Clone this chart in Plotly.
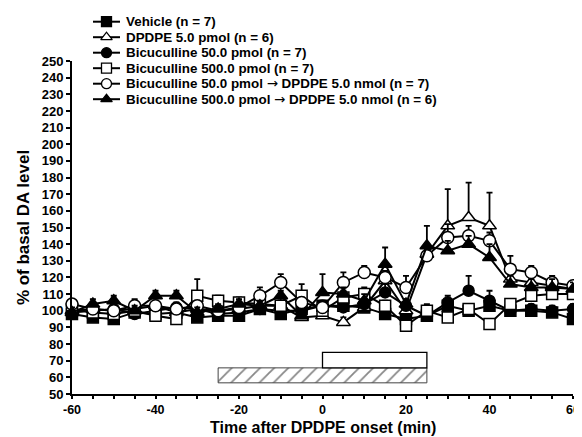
import plotly.graph_objects as go

# ---------------- data ----------------
time_min = [-60, -55, -50, -45, -40, -35, -30, -25, -20, -15, -10, -5, 0,
            5, 10, 15, 20, 25, 30, 35, 40, 45, 50, 55, 60]

vehicle = [98, 96, 95, 99, 98, 99, 96, 97, 97, 101, 98, 101, 103,
           103, 102, 98, 95, 97, 103, 100, 103, 100, 100, 99, 95]
vehicle_err = [2, 2, 2, 2, 2, 2, 2, 2, 2, 3, 2, 3, 3,
               3, 2, 2, 3, 3, 4, 3, 3, 2, 3, 3, 3]

dpdpe = [100, 101, 100, 101, 103, 99, 101, 100, 101, 103, 103, 96, 97,
         93, 102, 118, 100, 134, 151, 156, 151, 119, 117, 115, 113]
dpdpe_err = [3, 3, 2, 3, 3, 3, 3, 3, 3, 3, 3, 3, 3,
             3, 3, 5, 3, 5, 22, 21, 20, 4, 4, 4, 3]

bic50 = [99, 100, 101, 98, 100, 102, 101, 98, 99, 101, 100, 100, 103,
         102, 104, 111, 103, 97, 105, 112, 106, 100, 101, 100, 101]
bic50_err = [3, 3, 3, 3, 3, 3, 3, 3, 3, 3, 3, 3, 3,
             3, 3, 5, 4, 3, 4, 9, 6, 3, 3, 3, 3]

bic500 = [101, 99, 98, 100, 97, 95, 109, 106, 105, 104, 103, 109, 100,
          108, 110, 103, 91, 100, 96, 101, 92, 104, 109, 110, 110]
bic500_err = [3, 3, 3, 3, 3, 3, 10, 3, 3, 3, 3, 7, 3,
              4, 4, 3, 3, 4, 3, 3, 3, 3, 4, 4, 4]

bic50_dpdpe = [104, 101, 100, 103, 103, 101, 103, 100, 102, 109, 117, 105, 102,
               117, 123, 120, 114, 133, 144, 145, 142, 125, 123, 117, 115]
bic50_dpdpe_err = [3, 3, 3, 4, 3, 3, 3, 3, 3, 5, 5, 3, 3,
                   6, 4, 4, 7, 4, 8, 6, 5, 8, 4, 4, 3]

bic500_dpdpe = [99, 104, 106, 100, 109, 109, 99, 101, 104, 103, 109, 97, 111,
                110, 106, 128, 104, 139, 136, 140, 132, 116, 114, 114, 113]
bic500_dpdpe_err = [3, 3, 3, 3, 3, 3, 3, 3, 3, 3, 3, 3, 11,
                    4, 4, 10, 3, 12, 6, 5, 8, 5, 5, 5, 4]

ARROW = '<span style="font-family:DejaVu Sans;font-weight:normal">\u2192</span>'
series_names = [
    "Vehicle (n = 7)",
    "DPDPE 5.0 pmol (n = 6)",
    "Bicuculline 50.0 pmol (n = 7)",
    "Bicuculline 500.0 pmol (n = 7)",
    "Bicuculline 50.0 pmol " + ARROW + " DPDPE 5.0 nmol (n = 7)",
    "Bicuculline 500.0 pmol " + ARROW + " DPDPE 5.0 nmol (n = 6)",
]

# treatment bars: hatched = bicuculline, open = DPDPE
bar_start = [-25, 0]
bar_end = [25, 25]
bar_bottom = [56.7, 65.7]
bar_top = [65.7, 75]

x_ticks = [-60, -40, -20, 0, 20, 40, 60]
x_tick_text = ["-60", "-40", "-20", "0", "20", "40", "60"]
y_ticks = list(range(50, 251, 10))

# ---------------- styling ----------------
FONT = "Liberation Sans, Arial, sans-serif"
values = [vehicle, dpdpe, bic50, bic500, bic50_dpdpe, bic500_dpdpe]
errors = [vehicle_err, dpdpe_err, bic50_err, bic500_err, bic50_dpdpe_err, bic500_dpdpe_err]
symbols = ["square", "triangle-up", "circle", "square", "circle", "triangle-up"]
fills = ["black", "white", "black", "white", "white", "black"]
msize = [11, 12, 11, 11, 12, 12]

fig = go.Figure()

# treatment bars
fig.add_trace(go.Bar(
    orientation="h",
    y=[(bar_bottom[0] + bar_top[0]) / 2], x=[bar_end[0] - bar_start[0]],
    base=[bar_start[0]], width=[bar_top[0] - bar_bottom[0]],
    marker=dict(color="white", line=dict(color="#444", width=1),
                pattern=dict(shape="/", fgcolor="#111", bgcolor="white",
                             size=10, solidity=0.18)),
    showlegend=False, hoverinfo="skip"))
fig.add_trace(go.Bar(
    orientation="h",
    y=[(bar_bottom[1] + bar_top[1]) / 2], x=[bar_end[1] - bar_start[1]],
    base=[bar_start[1]], width=[bar_top[1] - bar_bottom[1]],
    marker=dict(color="white", line=dict(color="black", width=1.3)),
    showlegend=False, hoverinfo="skip"))

for i in range(6):
    fig.add_trace(go.Scatter(
        x=time_min, y=values[i], mode="lines+markers",
        line=dict(color="black", width=2),
        marker=dict(symbol=symbols[i], size=msize[i],
                    color=fills[i], line=dict(color="black", width=1.5)),
        error_y=dict(type="data", array=errors[i],
                     arrayminus=[0] * len(errors[i]), symmetric=False,
                     color="black", thickness=1.8, width=3),
        cliponaxis=False, showlegend=False, name=series_names[i]))

# The page body adds an 8 px offset; the figure is sized so that it
# exactly fills the remaining window area.
OFF = 8
W, H = 582 - OFF, 437 - OFF
mt, mb = 4, 43
plot_h = H - mt - mb
x_axis_px = H - mb          # figure px of the x axis
main_top = (x_axis_px - (61 - OFF)) / plot_h

# manual legend drawn in its own screen-pixel axes above the plot
leg_rows = [21.7 + 15.5 * k for k in range(6)]
for i in range(6):
    fig.add_trace(go.Scatter(
        x=[93, 120], y=[leg_rows[i]] * 2, mode="lines",
        line=dict(color="black", width=2), xaxis="x2", yaxis="y2",
        showlegend=False, hoverinfo="skip"))
    fig.add_trace(go.Scatter(
        x=[106.5], y=[leg_rows[i]], mode="markers",
        marker=dict(symbol=symbols[i], size=10,
                    color=fills[i], line=dict(color="black", width=1.3)),
        xaxis="x2", yaxis="y2", cliponaxis=False,
        showlegend=False, hoverinfo="skip"))
    fig.add_annotation(
        x=124, y=leg_rows[i], xref="x2", yref="y2", text=series_names[i],
        showarrow=False, xanchor="left", yanchor="middle",
        font=dict(family=FONT, size=13.4, color="black", weight="bold"))

# x-axis title placed as a paper annotation just under the tick labels
fig.add_annotation(
    x=0.5, y=(x_axis_px - (437 - OFF)) / plot_h, xref="paper", yref="paper",
    text="Time after DPDPE onset (min)", showarrow=False,
    xanchor="center", yanchor="bottom", borderpad=0,
    font=dict(family=FONT, size=16, color="black", weight="bold"))

leg_top_px = 110  # screen px of bottom of the legend area
fig.update_layout(
    width=W, height=H,
    margin=dict(l=72 - OFF, r=9, t=mt, b=mb, autoexpand=False),
    paper_bgcolor="white", plot_bgcolor="white",
    font=dict(family=FONT, color="black"),
    barmode="overlay",
    xaxis=dict(range=[-60, 60], tickvals=x_ticks, ticktext=x_tick_text,
               ticks="outside", ticklen=3, tickwidth=2, tickcolor="black",
               showline=True, linewidth=2, linecolor="black",
               showgrid=False, zeroline=False, ticklabeloverflow="allow",
               minor=dict(dtick=5, tick0=0, ticks="outside", ticklen=3,
                          tickwidth=2, tickcolor="black", showgrid=False),
               tickfont=dict(family=FONT, size=12.5, weight="bold"),
               anchor="y"),
    yaxis=dict(range=[50, 250], tickvals=y_ticks, ticks="outside",
               ticklen=4, tickwidth=2, tickcolor="black",
               showline=True, linewidth=2, linecolor="black",
               showgrid=False, zeroline=False, domain=[0, main_top],
               tickfont=dict(family=FONT, size=13, weight="bold"),
               title=dict(text="% of basal DA level", standoff=8,
                          font=dict(family=FONT, size=17, weight="bold")),
               anchor="x"),
    xaxis2=dict(range=[72, 573], domain=[0, 1], visible=False,
                anchor="y2", fixedrange=True),
    yaxis2=dict(range=[leg_top_px, OFF + mt],
                domain=[(x_axis_px - (leg_top_px - OFF)) / plot_h, 1],
                visible=False, anchor="x2", fixedrange=True),
)

fig.write_html("out.html")
